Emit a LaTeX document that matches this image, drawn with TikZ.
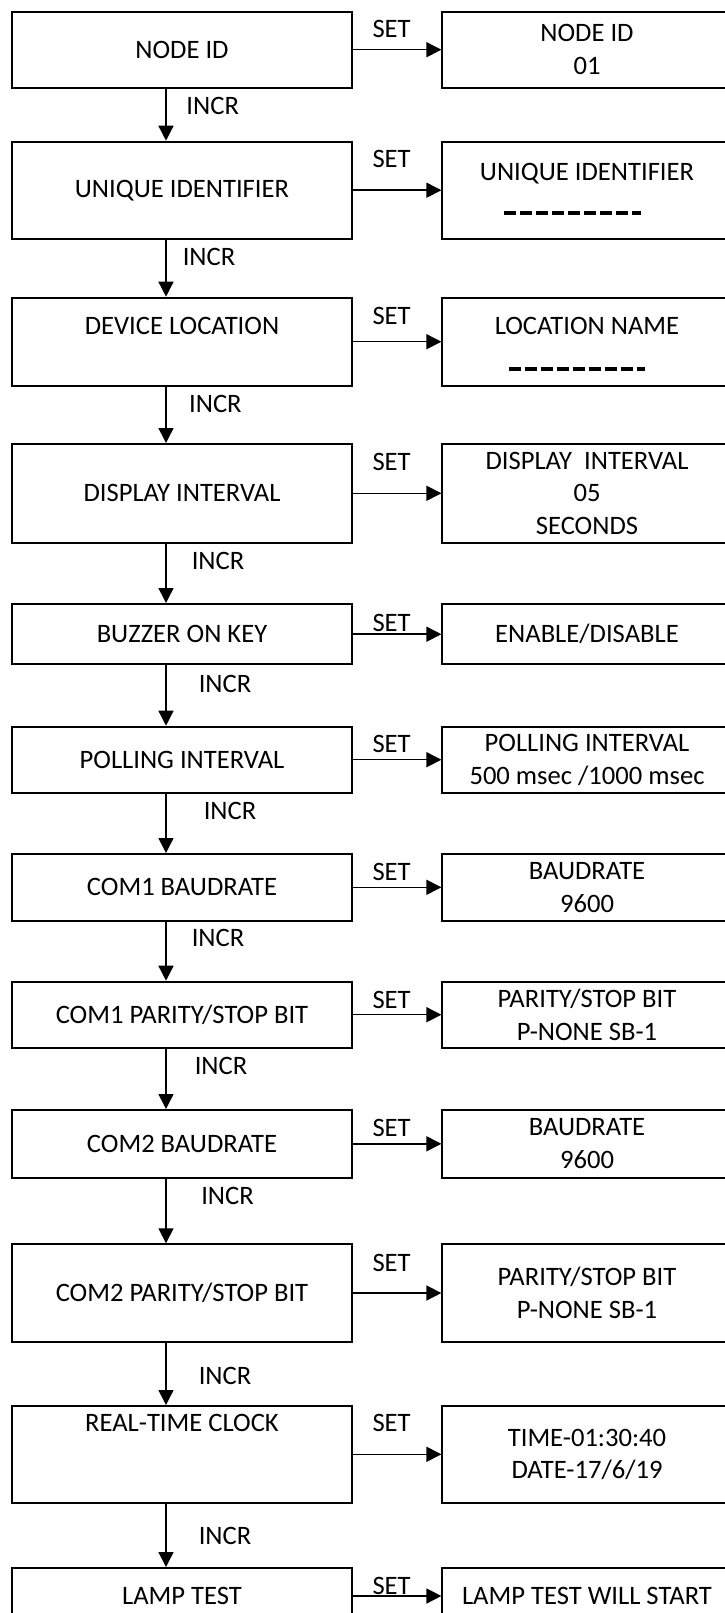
\documentclass[tikz,border=0pt]{standalone}
\usepackage{fontspec}
\setmainfont{Carlito}
\usetikzlibrary{arrows.meta}
\tikzset{
  menu/.style={draw,line width=1bp,inner sep=0pt,align=center,minimum width=169.5bp},
  value/.style={draw,line width=1bp,inner sep=0pt,align=center,minimum width=144.6bp},
  hop/.style={line width=0.75bp,-{Triangle[length=7.5bp,width=7.5bp]}},
  key/.style={inner sep=0pt},
  blank/.style={line width=2bp,dash pattern=on 6bp off 2bp}
}
\begin{document}
\begin{tikzpicture}[x=0.5bp,y=-0.5bp,font=\fontsize{13.3bp}{16.3bp}\selectfont]
  \useasboundingbox (0,0) rectangle (725,1613);
  % menu entries
  \node[menu,minimum height=38bp] (nid) at (182,49.7) {NODE ID};
  \node[menu,minimum height=48.5bp] (uid) at (182,190.2) {UNIQUE IDENTIFIER};
  \node[menu,minimum height=44bp,label={[key,label distance=-19.25bp]north:DEVICE LOCATION}] (loc) at (182,341.7) {};
  \node[menu,minimum height=49.3bp] (dint) at (182,493.3) {DISPLAY INTERVAL};
  \node[menu,minimum height=30.2bp] (buzz) at (182,634.2) {BUZZER ON KEY};
  \node[menu,minimum height=33bp] (poll) at (182,759.7) {POLLING INTERVAL};
  \node[menu,minimum height=33.3bp] (baudA) at (182,887.3) {COM1 BAUDRATE};
  \node[menu,minimum height=33bp] (parA) at (182,1014.7) {COM1 PARITY/STOP BIT};
  \node[menu,minimum height=33.8bp] (baudB) at (182,1143.8) {COM2 BAUDRATE};
  \node[menu,minimum height=48.7bp] (parB) at (182,1293) {COM2 PARITY/STOP BIT};
  \node[menu,minimum height=48.3bp,label={[key,label distance=-13.4bp]north:REAL-TIME CLOCK}] (rtc) at (182,1454.3) {};
  \node[menu,minimum height=28bp] (lamp) at (182,1596) {LAMP TEST};
  % values shown after SET
  \node[value,minimum height=38bp] (nid-v) at (587,49.7) {NODE ID\\01};
  \node[value,minimum height=48.5bp,label={[key,label distance=-21.75bp]north:UNIQUE IDENTIFIER}] (uid-v) at (587,190.2) {};
  \node[value,minimum height=44bp,label={[key,label distance=-19.25bp]north:LOCATION NAME}] (loc-v) at (587,341.7) {};
  \node[value,minimum height=49.3bp] (dint-v) at (587,493.3) {DISPLAY\ \ INTERVAL\\05\\SECONDS};
  \node[value,minimum height=30.2bp] (buzz-v) at (587,634.2) {ENABLE/DISABLE};
  \node[value,minimum height=33bp] (poll-v) at (587,759.7) {POLLING INTERVAL\\500 msec /1000 msec};
  \node[value,minimum height=33.3bp] (baudA-v) at (587,887.3) {BAUDRATE\\9600};
  \node[value,minimum height=33bp] (parA-v) at (587,1014.7) {PARITY/STOP BIT\\P-NONE SB-1};
  \node[value,minimum height=33.8bp] (baudB-v) at (587,1143.8) {BAUDRATE\\9600};
  \node[value,minimum height=48.7bp] (parB-v) at (587,1293) {PARITY/STOP BIT\\P-NONE SB-1};
  \node[value,minimum height=48.3bp] (rtc-v) at (587,1454.3) {TIME-01:30:40\\DATE-17/6/19};
  \node[value,minimum height=28bp] (lamp-v) at (587,1596) {LAMP TEST WILL START};
  \draw[blank] ([xshift=-41.5bp,yshift=-11.5bp]uid-v.center) -- ++(136.7,0);
  \draw[blank] ([xshift=-39.2bp,yshift=-13.65bp]loc-v.center) -- ++(136.4,0);
  % SET arrows
  \foreach \a/\y in {nid/29.3,uid/159.3,loc/316,dint/462.3,buzz/622.7,poll/744,
                     baudA/871.7,parA/1000,baudB/1128.3,parB/1263.3,rtc/1423.3,lamp/1586} {
    \draw[hop] (\a.east) -- (\a-v.west);
    \node[key] (set-\a) at (391.6,\y) {SET};
  }
  % INCR arrows
  \foreach \a/\b/\x/\y in {nid/uid/212.7/106,uid/loc/209/256.7,loc/dint/215.4/404,
                           dint/buzz/218/560.7,buzz/poll/225/684,poll/baudA/230/810.7,
                           baudA/parA/218/938.3,parA/baudB/221/1065.7,baudB/parB/227.5/1195.7,
                           parB/rtc/225/1375.7,rtc/lamp/225/1536} {
    \draw[hop] ([xshift=-8bp]\a.south) -- ([xshift=-8bp]\b.north);
    \node[key] (incr-\a) at (\x,\y) {INCR};
  }
\end{tikzpicture}
\end{document}
